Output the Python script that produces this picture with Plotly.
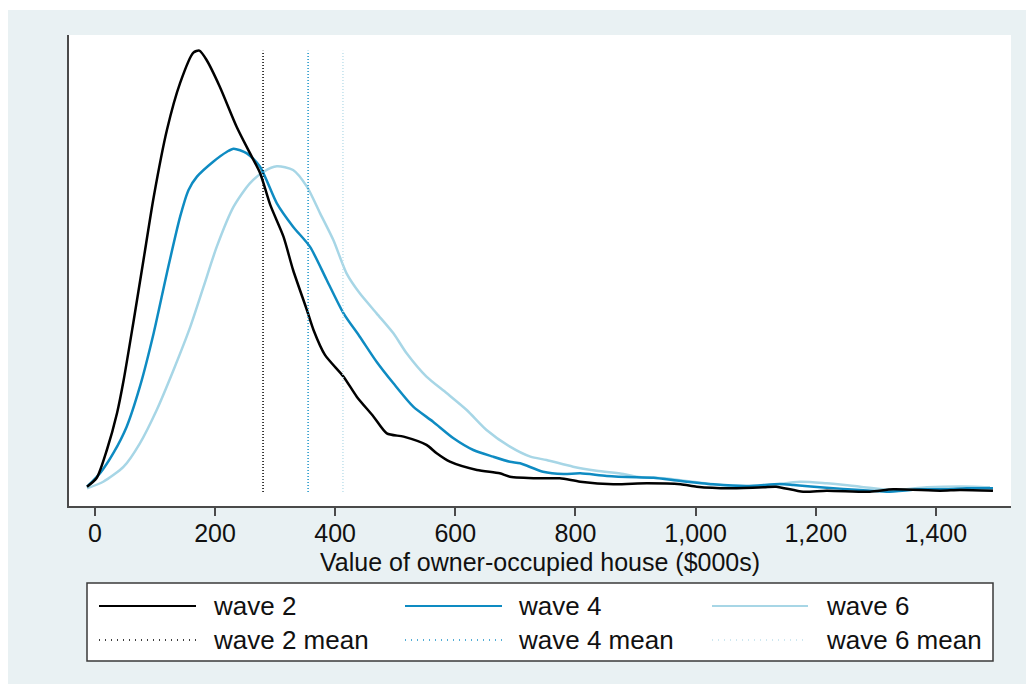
import plotly.graph_objects as go

# ---------------- data ----------------
# Kernel density of owner-occupied house value ($000s); density per $1m
x_w2 = [-13, 3, 20, 37, 48, 64, 81, 98, 120, 142, 164, 174, 186, 208, 236, 258, 275, 292, 314, 330,
        353, 364, 383, 414, 436, 464, 486, 514, 552, 569, 591, 636, 674, 691, 741, 774, 808, 863, 919, 975,
        1002, 1057, 1113, 1134, 1179, 1218, 1290, 1329, 1407, 1440, 1495]
d_w2 = [0.040, 0.105, 0.315, 0.593, 0.84, 1.268, 1.74, 2.213, 2.715, 3.068, 3.295, 3.31, 3.24, 3.04, 2.74,
        2.543, 2.393, 2.153, 1.915, 1.665, 1.365, 1.215, 1.028, 0.865, 0.715, 0.565, 0.44, 0.415, 0.353, 0.29,
        0.227, 0.165, 0.14, 0.115, 0.103, 0.103, 0.077, 0.058, 0.065, 0.058, 0.04, 0.028, 0.035, 0.04, 0.002,
        0.01, 0.002, 0.02, 0.01, 0.015, 0.01]

x_w4 = [-13, 9, 31, 53, 75, 98, 120, 142, 156, 170, 197, 220, 231, 253, 275, 303, 330, 358, 386, 414,
        441, 469, 497, 530, 563, 597, 630, 663, 691, 708, 746, 780, 808, 852, 902, 930, 975, 1029, 1085, 1140,
        1163, 1218, 1274, 1318, 1373, 1418, 1451, 1495]
d_w4 = [0.04, 0.143, 0.293, 0.49, 0.79, 1.193, 1.643, 2.065, 2.265, 2.365, 2.477, 2.552, 2.575, 2.54, 2.44,
        2.165, 1.99, 1.84, 1.59, 1.34, 1.165, 0.977, 0.815, 0.64, 0.527, 0.403, 0.315, 0.265, 0.227, 0.215,
        0.152, 0.135, 0.14, 0.12, 0.11, 0.107, 0.083, 0.058, 0.045, 0.06, 0.053, 0.032, 0.015, 0.002, 0.02,
        0.02, 0.028, 0.028]

x_w6 = [-13, 14, 48, 75, 103, 131, 159, 181, 203, 231, 258, 281, 303, 330, 353, 375, 397, 419, 441, 469,
        497, 519, 552, 586, 619, 652, 691, 725, 752, 796, 835, 880, 902, 946, 1002, 1057, 1113, 1174, 1218, 1274,
        1329, 1385, 1462, 1490]
d_w6 = [0.028, 0.077, 0.19, 0.365, 0.615, 0.915, 1.24, 1.54, 1.84, 2.14, 2.315, 2.402, 2.443, 2.415, 2.29,
        2.09, 1.89, 1.64, 1.49, 1.34, 1.19, 1.04, 0.865, 0.74, 0.615, 0.465, 0.34, 0.265, 0.24, 0.19,
        0.16, 0.135, 0.115, 0.103, 0.073, 0.047, 0.045, 0.077, 0.065, 0.04, 0.015, 0.035, 0.04, 0.035]

wave_names = ["wave 2", "wave 4", "wave 6"]
mean_names = ["wave 2 mean", "wave 4 mean", "wave 6 mean"]
mean_vals = [280, 355, 413]
x_ticks = [0, 200, 400, 600, 800, 1000, 1200, 1400]
x_title = "Value of owner-occupied house ($000s)"

# ---------------- style ----------------
W, H = 1026, 684
PL, PR, PT, PB = 69, 1011, 35, 506          # plot area in pixels
BG = "#E9F1F3"
AXC = "#4a4a4a"
wave_colors = ["#000000", "#0E8BC2", "#A7D6E6"]
mean_colors = ["#000000", "#1A93C8", "#BFE0EC"]
FONT = "Liberation Sans, Arial, sans-serif"
FS = 26
FS_AX = 25


def fx(px):
    return (px - PL) / (PR - PL)


def fy(py):
    return (PB - py) / (PB - PT)


fig = go.Figure()

series = [(x_w2, d_w2), (x_w4, d_w4), (x_w6, d_w6)]
# draw light first so darker curves stay on top
for i in [2, 1, 0]:
    xs, ds = series[i]
    fig.add_trace(go.Scatter(x=xs, y=ds, mode="lines", name=wave_names[i],
                             line=dict(color=wave_colors[i], width=2.5, shape="spline", smoothing=0.7),
                             showlegend=False, hoverinfo="skip"))

top = max(d_w2)
for i in range(3):
    fig.add_trace(go.Scatter(x=[mean_vals[i], mean_vals[i]], y=[0, top], mode="lines", name=mean_names[i],
                             line=dict(color=mean_colors[i], width=1.5, dash="1px,2px"),
                             showlegend=False, hoverinfo="skip"))

shapes = [
    # outer light background (white strips left/top as in reference)
    dict(type="rect", xref="paper", yref="paper", x0=fx(8), x1=fx(W + 5), y0=fy(H + 5), y1=fy(10),
         fillcolor=BG, line=dict(width=0), layer="below"),
    # plot area white
    dict(type="rect", xref="paper", yref="paper", x0=0, x1=1, y0=0, y1=1,
         fillcolor="white", line=dict(width=0), layer="below"),
    # legend box
    dict(type="rect", xref="paper", yref="paper", x0=fx(87), x1=fx(993), y0=fy(661), y1=fy(583),
         fillcolor="white", line=dict(color="#3a3a3a", width=1.5), layer="above"),
]

annotations = [
    dict(x=0.5, y=fy(562), xref="paper", yref="paper", text=x_title, showarrow=False,
         xanchor="center", yanchor="middle", font=dict(family=FONT, size=FS_AX, color="#111111")),
]
col_line_x = [(99, 196), (405, 502), (712, 808)]
col_text_x = [211, 516, 824]
row_y = [606, 640]
for i in range(3):
    x0, x1 = col_line_x[i]
    # solid sample
    shapes.append(dict(type="line", xref="paper", yref="paper", x0=fx(x0), x1=fx(x1),
                       y0=fy(row_y[0]), y1=fy(row_y[0]),
                       line=dict(color=wave_colors[i], width=2.2), layer="above"))
    # dotted sample
    shapes.append(dict(type="line", xref="paper", yref="paper", x0=fx(x0), x1=fx(x1),
                       y0=fy(row_y[1]), y1=fy(row_y[1]),
                       line=dict(color=mean_colors[i], width=1.3, dash="1px,5px"), layer="above"))
    annotations.append(dict(x=fx(col_text_x[i]), y=fy(row_y[0]), xref="paper", yref="paper",
                            text=wave_names[i], showarrow=False, xanchor="left", yanchor="middle",
                            font=dict(family=FONT, size=FS, color="#111111")))
    annotations.append(dict(x=fx(col_text_x[i]), y=fy(row_y[1]), xref="paper", yref="paper",
                            text=mean_names[i], showarrow=False, xanchor="left", yanchor="middle",
                            font=dict(family=FONT, size=FS, color="#111111")))

fig.update_layout(
    width=W, height=H, autosize=False,
    margin=dict(l=PL, r=W - PR, t=PT, b=H - PB, pad=0),
    paper_bgcolor="white", plot_bgcolor="white",
    showlegend=False,
    font=dict(family=FONT, size=FS, color="#111111"),
    shapes=shapes, annotations=annotations,
    xaxis=dict(range=[-43, 1525], tickvals=x_ticks, tickformat=",d",
               showline=True, linecolor=AXC, linewidth=1.5, mirror=False,
               ticks="outside", ticklen=8, tickwidth=1.5, tickcolor=AXC,
               showgrid=False, zeroline=False, ticklabelstandoff=-4,
               tickfont=dict(family=FONT, size=FS_AX, color="#111111")),
    yaxis=dict(range=[-0.105, 3.4275], showline=True, linecolor=AXC, linewidth=1.5,
               showticklabels=False, ticks="", showgrid=False, zeroline=False),
)

fig.write_html("out.html")
